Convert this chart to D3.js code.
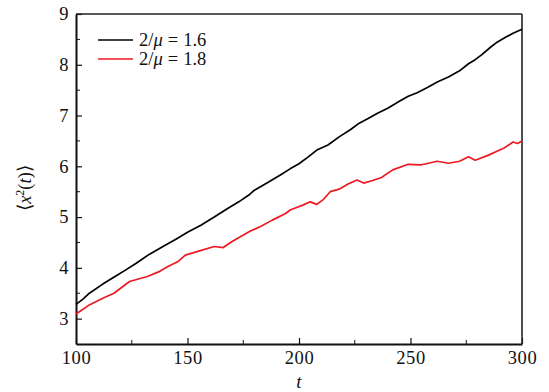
<!DOCTYPE html>
<html>
<head>
<meta charset="utf-8">
<script src="https://cdn.jsdelivr.net/npm/d3@7"></script>
<style>
  body { margin: 0; background: #fff; }
</style>
</head>
<body>
<div id="chart"></div>
<script>
// series
const labels = ['1.6', '1.8'];
const colors = ['#000000', '#ec1a22'];

const tBlack = [100, 103, 106, 112, 117.5, 122, 127, 133, 139, 145, 150, 156, 162, 168, 173, 178, 180, 186, 192, 196, 200, 204, 208, 213, 218, 223, 227, 231, 235, 240, 245, 249, 253, 258, 262, 267, 272, 276, 279, 282, 286, 289, 293, 296, 300];
const vBlack = [3.28, 3.38, 3.50, 3.68, 3.83, 3.95, 4.09, 4.27, 4.42, 4.57, 4.70, 4.84, 5.00, 5.17, 5.30, 5.45, 5.53, 5.68, 5.84, 5.95, 6.05, 6.18, 6.32, 6.42, 6.58, 6.72, 6.85, 6.94, 7.04, 7.15, 7.28, 7.38, 7.45, 7.56, 7.66, 7.76, 7.88, 8.02, 8.10, 8.20, 8.35, 8.45, 8.55, 8.62, 8.70];

const tRed = [100, 106, 112, 117, 124, 132, 137, 141, 146, 149, 155, 162, 166, 170, 178, 183, 188, 194, 196, 202, 205, 208, 211, 214, 218, 222, 226, 229, 233, 237, 242, 249, 255, 262, 267, 272, 276, 279, 285, 290, 292, 296, 298, 300];
const vRed = [3.09, 3.27, 3.40, 3.50, 3.73, 3.83, 3.92, 4.02, 4.13, 4.25, 4.33, 4.42, 4.40, 4.52, 4.72, 4.82, 4.94, 5.07, 5.14, 5.24, 5.30, 5.25, 5.35, 5.50, 5.55, 5.65, 5.73, 5.67, 5.72, 5.78, 5.93, 6.04, 6.03, 6.10, 6.06, 6.10, 6.19, 6.12, 6.22, 6.32, 6.36, 6.48, 6.45, 6.50];

const xTicks = [100, 150, 200, 250, 300];
const xMinor = [125, 175, 225, 275];
const yTicks = [3, 4, 5, 6, 7, 8, 9];
const yMinor = [3.5, 4.5, 5.5, 6.5, 7.5, 8.5];

const series = [
  tBlack.map((t, i) => ({ t: t, v: vBlack[i] })),
  tRed.map((t, i) => ({ t: t, v: vRed[i] }))
];

const width = 549, height = 392;
const margin = { top: 14, right: 27, bottom: 48, left: 76 };
const w = width - margin.left - margin.right;
const h = height - margin.top - margin.bottom;
const FONT = '"Liberation Serif"';

const svg = d3.select('#chart').append('svg')
  .attr('width', width)
  .attr('height', height);

const g = svg.append('g')
  .attr('transform', `translate(${margin.left},${margin.top})`);

const x = d3.scaleLinear().domain([100, 300]).range([0, w]);
const y = d3.scaleLinear().domain([2.5, 9]).range([h, 0]);

// axes, ticks pointing inward
const xAxis = g.append('g')
  .attr('transform', `translate(0,${h})`)
  .call(d3.axisBottom(x).tickValues(xTicks).tickFormat(d3.format('d')).tickSize(-6).tickPadding(7).tickSizeOuter(0));
xAxis.append('g').selectAll('line').data(xMinor).enter().append('line')
  .attr('x1', d => x(d)).attr('x2', d => x(d)).attr('y1', 0).attr('y2', -4)
  .attr('stroke', '#111');

const yAxis = g.append('g')
  .call(d3.axisLeft(y).tickValues(yTicks).tickFormat(d3.format('d')).tickSize(-6).tickPadding(7).tickSizeOuter(0));
yAxis.append('g').selectAll('line').data(yMinor).enter().append('line')
  .attr('x1', 0).attr('x2', 4).attr('y1', d => y(d)).attr('y2', d => y(d))
  .attr('stroke', '#111');

g.selectAll('.tick text')
  .style('font-family', FONT)
  .style('font-size', '18.5px')
  .style('letter-spacing', '0.6px')
  .attr('fill', '#111');
g.selectAll('.tick line').attr('stroke', '#111').attr('stroke-width', 1.2);
g.selectAll('.domain').attr('stroke', '#111').attr('stroke-width', 2);

// top and right frame
g.append('line').attr('x1', 0).attr('x2', w).attr('y1', 0).attr('y2', 0)
  .attr('stroke', '#222').attr('stroke-width', 1.6);
g.append('line').attr('x1', w).attr('x2', w).attr('y1', 0).attr('y2', h)
  .attr('stroke', '#222').attr('stroke-width', 1.6);

const line = d3.line()
  .x(d => x(d.t))
  .y(d => y(d.v));

series.forEach((s, i) => {
  g.append('path')
    .datum(s)
    .attr('fill', 'none')
    .attr('stroke', colors[i])
    .attr('stroke-width', 1.7)
    .attr('stroke-linejoin', 'round')
    .attr('d', line);
});

// legend
const legend = svg.append('g').attr('transform', 'translate(98,40)');
labels.forEach((lab, i) => {
  const row = legend.append('g').attr('transform', `translate(0,${i * 19})`);
  row.append('line').attr('x1', 0).attr('x2', 35).attr('y1', 0).attr('y2', 0)
    .attr('stroke', colors[i]).attr('stroke-width', 1.3);
  const txt = row.append('text').attr('x', 41).attr('y', 6)
    .style('font-family', FONT).style('font-size', '18.5px').attr('fill', '#111');
  txt.append('tspan').text('2/');
  txt.append('tspan').style('font-style', 'italic').text('μ');
  txt.append('tspan').attr('dx', 5).text('=');
  txt.append('tspan').attr('dx', 5).text(lab);
});

// axis titles
svg.append('text')
  .attr('x', margin.left + w / 2)
  .attr('y', 388)
  .attr('text-anchor', 'middle')
  .style('font-family', FONT)
  .style('font-size', '19px')
  .style('font-style', 'italic')
  .attr('fill', '#111')
  .text('t');

const yt = svg.append('text')
  .attr('transform', `translate(31,188) rotate(-90)`)
  .attr('text-anchor', 'middle')
  .style('font-family', FONT)
  .style('font-size', '18.5px')
  .attr('fill', '#111');
yt.append('tspan').text('⟨');
yt.append('tspan').style('font-style', 'italic').text('x');
yt.append('tspan').attr('dy', -7).style('font-size', '12px').text('2');
yt.append('tspan').attr('dy', 7).text('(');
yt.append('tspan').style('font-style', 'italic').text('t');
yt.append('tspan').text(')⟩');
</script>
</body>
</html>
